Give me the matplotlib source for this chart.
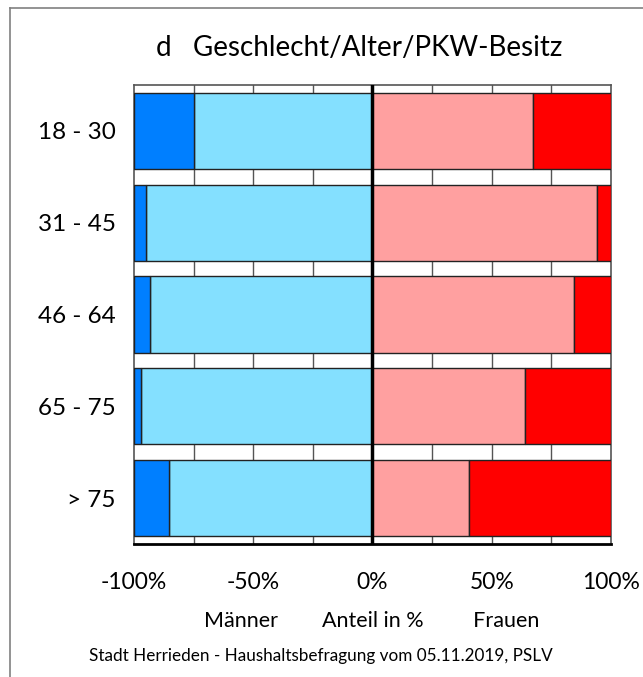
import matplotlib
matplotlib.use("Agg")
import matplotlib.pyplot as plt
from matplotlib.lines import Line2D

plt.rcParams['font.family'] = ['Lato', 'DejaVu Sans']

categories = ["18 - 30", "31 - 45", "46 - 64", "65 - 75", "> 75"]
# Men (left side), percentages
men_light = [75.0, 95.0, 93.3, 96.9, 85.3]
men_dark = [25.0, 5.0, 6.7, 3.1, 14.7]
# Women (right side), percentages
women_light = [67.2, 94.0, 84.3, 63.9, 40.5]
women_dark = [32.8, 6.0, 15.7, 36.1, 59.5]
xticks = [-100, -50, 0, 50, 100]
xticklabels = ["-100%", "-50%", "0%", "50%", "100%"]

fig = plt.figure(figsize=(6.43, 6.77), dpi=100)
# outer frame (left and top edges only visible)
fx, fy = 9.5 / 643, 1 - 7.5 / 677
fig.lines.append(Line2D([fx, fx], [0, fy], transform=fig.transFigure, color='#808080', linewidth=1.2))
fig.lines.append(Line2D([fx, 1], [fy, fy], transform=fig.transFigure, color='#808080', linewidth=1.2))

ax = fig.add_axes([134/643, 1 - 544/677, (611 - 134)/643, (544 - 85)/677])

y = list(range(len(categories)))
h = 0.83
ec = '#222222'
ax.barh(y, [-v for v in men_light], height=h, color='#84e0ff', edgecolor=ec, linewidth=1, zorder=3)
ax.barh(y, [-v for v in men_dark], left=[-v for v in men_light], height=h, color='#007fff',
        edgecolor=ec, linewidth=1, zorder=3)
ax.barh(y, women_light, height=h, color='#ffa0a0', edgecolor=ec, linewidth=1, zorder=3)
ax.barh(y, women_dark, left=women_light, height=h, color='#ff0000', edgecolor=ec, linewidth=1, zorder=3)

for gx in [-75, -50, -25, 25, 50, 75]:
    ax.axvline(gx, color='#555555', linewidth=1, zorder=1)
ax.axvline(0, color='black', linewidth=2.5, zorder=4)

ax.set_xlim(-100, 100)
ax.set_ylim(len(categories) - 0.5, -0.5)
ax.set_yticks(y)
ax.set_yticklabels(categories, fontsize=17.5)
ax.set_xticks(xticks)
ax.set_xticklabels(xticklabels, fontsize=16.5)
ax.tick_params(axis='x', length=0, pad=20)
ax.tick_params(axis='y', length=0, pad=13)
for s in ax.spines.values():
    s.set_color('#555555')
    s.set_linewidth(1.2)
ax.spines['bottom'].set_color('black')
ax.spines['bottom'].set_linewidth(2)

fig.text(359/643, 1 - 48/677, "d   Geschlecht/Alter/PKW-Besitz", ha='center', va='center', fontsize=20)
fig.text(372/643, 1 - 621/677, "Männer        Anteil in %         Frauen", ha='center', va='center', fontsize=15.5)
fig.text(321/643, 1 - 656/677, "Stadt Herrieden - Haushaltsbefragung vom 05.11.2019, PSLV",
         ha='center', va='center', fontsize=12.3)

fig.savefig("out.png", dpi=100)
